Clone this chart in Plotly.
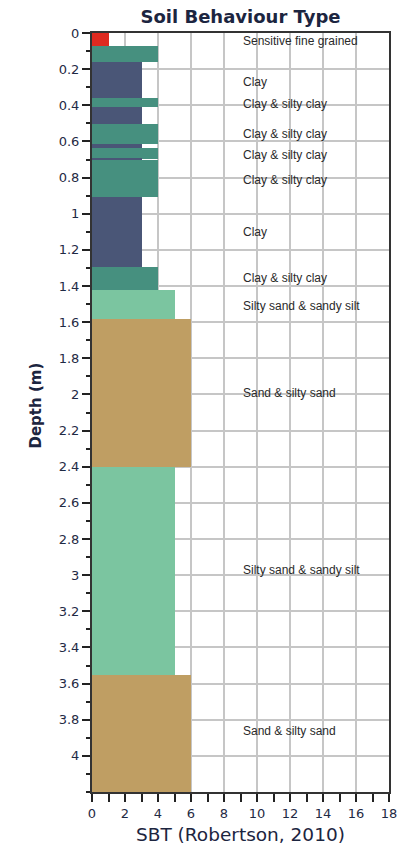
import plotly.graph_objects as go

# Soil layers from the CPT log: top / bottom depth (m) and SBT zone (Robertson, 2010)
layer_top = [0.0, 0.07, 0.16, 0.36, 0.41, 0.505, 0.616, 0.638, 0.696, 0.703, 0.907, 1.297, 1.42, 1.58, 2.40, 3.55]
layer_bottom = [0.07, 0.16, 0.36, 0.41, 0.505, 0.616, 0.638, 0.696, 0.703, 0.907, 1.297, 1.42, 1.58, 2.40, 3.55, 4.2]
layer_sbt = [1, 4, 3, 4, 3, 4, 3, 4, 3, 4, 3, 4, 5, 6, 5, 6]

# Zone descriptions written beside the column
label_depth = [0.05, 0.274, 0.40, 0.566, 0.682, 0.821, 1.104, 1.359, 1.515, 1.997, 2.979, 3.867]
label_text = [
    "Sensitive fine grained", "Clay", "Clay & silty clay", "Clay & silty clay",
    "Clay & silty clay", "Clay & silty clay", "Clay", "Clay & silty clay",
    "Silty sand & sandy silt", "Sand & silty sand", "Silty sand & sandy silt",
    "Sand & silty sand",
]

# Axis ticks
depth_ticks = [round(0.2 * i, 1) for i in range(21)]
depth_tick_text = ["0", "0.2", "0.4", "0.6", "0.8", "1", "1.2", "1.4", "1.6", "1.8", "2",
                   "2.2", "2.4", "2.6", "2.8", "3", "3.2", "3.4", "3.6", "3.8", "4"]
sbt_ticks = [0, 2, 4, 6, 8, 10, 12, 14, 16, 18]

zone_colors = {
    1: "#df2a20",
    3: "#4a5677",
    4: "#46907f",
    5: "#7bc5a0",
    6: "#bf9e63",
}

mids = [(t + b) / 2 for t, b in zip(layer_top, layer_bottom)]
thick = [b - t for t, b in zip(layer_top, layer_bottom)]

fig = go.Figure()
fig.add_trace(go.Bar(
    orientation="h",
    y=mids,
    x=layer_sbt,
    width=thick,
    base=0,
    marker=dict(color=[zone_colors[z] for z in layer_sbt], line=dict(width=0)),
    hoverinfo="skip",
    showlegend=False,
))
fig.add_trace(go.Scatter(
    x=[9.15] * len(label_depth),
    y=label_depth,
    mode="text",
    text=label_text,
    textposition="middle right",
    textfont=dict(family="Liberation Sans, Arial, sans-serif", size=12, color="#2a2a2a"),
    hoverinfo="skip",
    showlegend=False,
))

axis_line = dict(showline=True, linecolor="#333333", linewidth=2, mirror=True)
tick_font = dict(family="DejaVu Sans, Verdana, sans-serif", size=13, color="#1f2a44")

fig.update_xaxes(
    range=[0, 18],
    automargin=False,
    tickmode="array",
    tickvals=sbt_ticks,
    ticks="outside",
    ticklen=8,
    tickwidth=2,
    tickcolor="#222222",
    tickfont=tick_font,
    showgrid=True,
    gridcolor="#c6c6c6",
    gridwidth=1.5,
    zeroline=False,
    minor=dict(dtick=1, tick0=0, ticks="outside", ticklen=8, tickwidth=2,
               tickcolor="#222222", showgrid=False),
    **axis_line,
)
fig.update_yaxes(
    range=[4.2, 0],
    automargin=False,
    tickmode="array",
    tickvals=depth_ticks,
    ticktext=depth_tick_text,
    ticks="outside",
    ticklen=8,
    tickwidth=2,
    tickcolor="#222222",
    tickfont=tick_font,
    showgrid=True,
    gridcolor="#c6c6c6",
    gridwidth=1.5,
    zeroline=False,
    minor=dict(dtick=0.1, tick0=0, ticks="outside", ticklen=4, tickwidth=2,
               tickcolor="#222222", showgrid=False),
    **axis_line,
)

fig.update_layout(
    width=403,
    height=846,
    margin=dict(l=92, r=14, t=33, b=54, autoexpand=False),
    paper_bgcolor="white",
    plot_bgcolor="white",
    bargap=0,
    title=dict(
        text="<b>Soil Behaviour Type</b>",
        x=0.5,
        xref="paper",
        xanchor="center",
        y=1 - 16.5 / 846,
        yref="container",
        yanchor="middle",
        font=dict(family="DejaVu Sans, Verdana, sans-serif", size=18, color="#1c2540"),
    ),
    annotations=[
        dict(text="<b>Depth (m)</b>", xref="paper", yref="paper", x=0, y=0.5,
             xshift=-57, yshift=7, textangle=-90, showarrow=False,
             xanchor="center", yanchor="middle",
             font=dict(family="DejaVu Sans, Verdana, sans-serif", size=15, color="#1c2540")),
        dict(text="SBT (Robertson, 2010)", xref="paper", yref="paper", x=0.5, y=0,
             yshift=-42, showarrow=False, xanchor="center", yanchor="middle",
             font=dict(family="DejaVu Sans, Verdana, sans-serif", size=18.5, color="#1c2540")),
    ],
)

fig.write_html("out.html")
